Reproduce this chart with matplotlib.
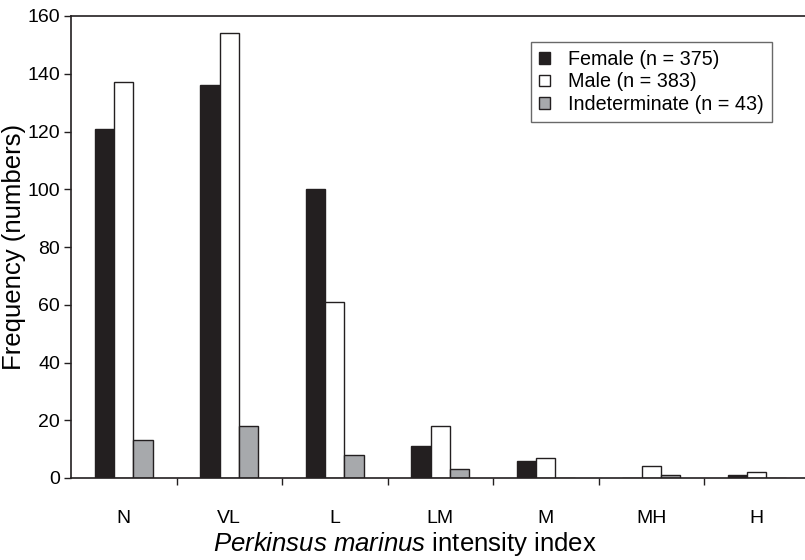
import numpy as np
import matplotlib.pyplot as plt

categories = ["N", "VL", "L", "LM", "M", "MH", "H"]
female = [121, 136, 100, 11, 6, 0, 1]
male = [137, 154, 61, 18, 7, 4, 2]
indeterminate = [13, 18, 8, 3, 0, 1, 0]
series_labels = ["Female (n = 375)", "Male (n = 383)", "Indeterminate (n = 43)"]

plt.rcParams['font.family'] = ['Liberation Sans', 'DejaVu Sans']
plt.rcParams['mathtext.fontset'] = 'custom'
plt.rcParams['mathtext.it'] = 'Liberation Sans:italic'
plt.rcParams['mathtext.rm'] = 'Liberation Sans'

fig = plt.figure(figsize=(8.05, 5.6), dpi=100)
ax = fig.add_axes([71 / 805, 82 / 560, 738.5 / 805, 462 / 560])

x = np.arange(len(categories))
w = 0.183
edge = '#231f20'
ax.bar(x - w, female, w, color='#231f20', edgecolor=edge, linewidth=1, label=series_labels[0])
ax.bar(x, male, w, color='white', edgecolor=edge, linewidth=1, label=series_labels[1])
ax.bar(x + w, indeterminate, w, color='#a7a9ac', edgecolor=edge, linewidth=1, label=series_labels[2])

ax.set_xlim(-0.5, 6.5)
ax.set_ylim(0, 160)
ax.set_yticks(range(0, 161, 20))
ax.set_xticks(x)
ax.set_xticklabels(categories)
ax.set_xticks(x[:-1] + 0.5, minor=True)
ax.tick_params(axis='x', which='major', length=0, labelsize=14, pad=23)
ax.tick_params(axis='x', which='minor', length=5, width=1, direction='out', color=edge)
ax.tick_params(axis='y', length=5, width=1, direction='out', labelsize=14, color=edge, pad=3)

for s in ['left', 'top', 'bottom']:
    ax.spines[s].set_linewidth(1.2)
    ax.spines[s].set_color(edge)
ax.spines['right'].set_visible(False)

# label positions in axes fractions (axes is 738.5 x 462 px)
ax.set_ylabel("Frequency (numbers)", fontsize=18.5)
ax.yaxis.set_label_coords(-45 / 738.5, 0.5)
ax.set_xlabel(r"$\it{Perkinsus\ marinus}$ intensity index", fontsize=18.5)
ax.xaxis.set_label_coords((405 - 71) / 738.5, -52 / 462)

leg = ax.legend(loc='upper right', fontsize=14.2, handlelength=0.55, handleheight=0.55,
                handletextpad=0.9, labelspacing=0.16, borderpad=0.42, borderaxespad=0,
                fancybox=False, frameon=True)
leg.set_bbox_to_anchor((772 / 805, (560 - 42) / 560), transform=fig.transFigure)
leg.get_frame().set_edgecolor('#444444')
leg.get_frame().set_linewidth(1)

fig.savefig("out.png", dpi=100)
